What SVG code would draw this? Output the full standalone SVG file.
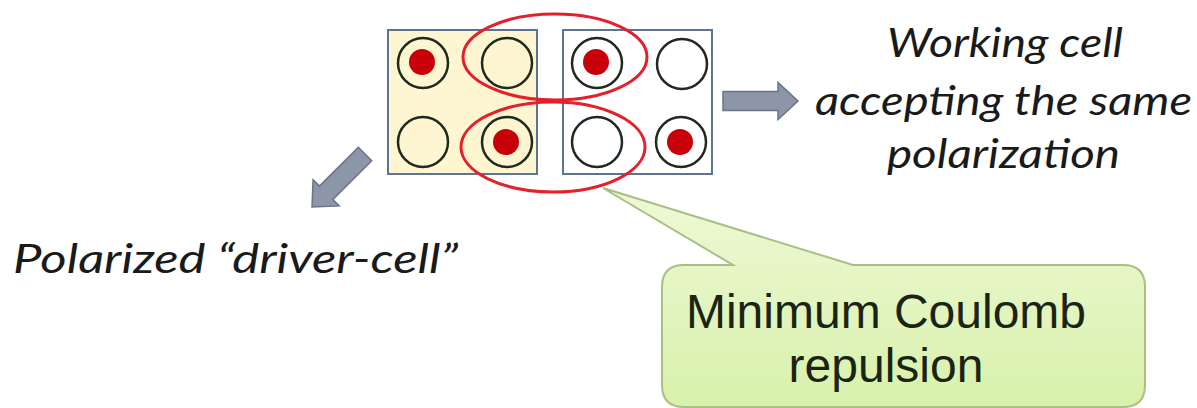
<svg xmlns="http://www.w3.org/2000/svg" width="1197" height="408" viewBox="0 0 1197 408">
  <style>
    .cell { stroke: #5d7392; stroke-width: 2; }
    .dot-ring { fill: none; stroke: #1f2a1f; stroke-width: 2.5; }
    .charge { fill: #c8000a; }
    .pair { fill: none; stroke: #e3202c; stroke-width: 3; }
    .arrow { fill: #8d96a8; stroke: #6b7487; stroke-width: 1.5; stroke-linejoin: miter; }
    .label { font-family: Lato, "Open Sans", sans-serif; font-style: italic; font-size: 40px; fill: #1a1a1a; }
    .callout-text { font-family: "Liberation Sans", Arial, sans-serif; font-size: 48px; fill: #1b2414; text-anchor: middle; }
  </style>
  <defs>
    <linearGradient id="calloutFill" x1="0" y1="0" x2="0" y2="1">
      <stop offset="0" stop-color="#eef9d6"/>
      <stop offset="1" stop-color="#d8f1ab"/>
    </linearGradient>
    <!-- block arrow, tip at the origin, pointing along +x -->
    <path id="blockArrow" d="M -75,-9.5 L -20,-9.5 L -20,-18.5 L 0,0 L -20,18.5 L -20,9.5 L -75,9.5 Z"/>
  </defs>

  <rect width="1197" height="408" fill="#ffffff"/>

  <!-- driver cell (left, polarized) -->
  <g id="driver-cell">
    <rect class="cell" x="388" y="30" width="149" height="144" fill="#fdf6d0"/>
    <circle class="dot-ring" cx="423" cy="63" r="25"/>
    <circle class="charge" cx="422" cy="62" r="13"/>
    <circle class="dot-ring" cx="507" cy="63" r="25"/>
    <circle class="dot-ring" cx="423" cy="142" r="25"/>
    <circle class="dot-ring" cx="507" cy="142" r="25"/>
    <circle class="charge" cx="506" cy="142" r="13"/>
  </g>

  <!-- working cell (right) -->
  <g id="working-cell">
    <rect class="cell" x="563" y="30" width="149" height="144" fill="#ffffff"/>
    <circle class="dot-ring" cx="597" cy="63" r="25"/>
    <circle class="charge" cx="596" cy="62" r="13"/>
    <circle class="dot-ring" cx="682" cy="64" r="25"/>
    <circle class="dot-ring" cx="597" cy="142" r="25"/>
    <circle class="dot-ring" cx="681" cy="142" r="25"/>
    <circle class="charge" cx="680" cy="142" r="13"/>
  </g>

  <!-- neighbouring charge pairs -->
  <g id="charge-pairs">
    <ellipse class="pair" cx="555" cy="57" rx="92" ry="43"/>
    <ellipse class="pair" cx="553" cy="147" rx="92" ry="45"/>
  </g>

  <!-- callout -->
  <g id="callout">
    <path d="M 684,265 L 733,265 L 603,188 L 853,265 L 1123,265 Q 1145,265 1145,287 L 1145,385 Q 1145,407 1123,407 L 684,407 Q 662,407 662,385 L 662,287 Q 662,265 684,265 Z"
          fill="url(#calloutFill)" stroke="#a9bf84" stroke-width="2"/>
    <text class="callout-text" x="886" y="328">Minimum Coulomb</text>
    <text class="callout-text" x="886" y="382">repulsion</text>
  </g>

  <g id="connectors">
    <use href="#blockArrow" class="arrow" transform="translate(798,101)"/>
    <use href="#blockArrow" class="arrow" transform="translate(312,207) rotate(135)"/>
  </g>

  <g id="working-label">
    <text class="label" x="887" y="57" textLength="236" lengthAdjust="spacingAndGlyphs">Working cell</text>
    <text class="label" x="815" y="115" textLength="377" lengthAdjust="spacingAndGlyphs">accepting the same</text>
    <text class="label" x="887" y="168" textLength="233" lengthAdjust="spacingAndGlyphs">polarization</text>
  </g>

  <g id="driver-label">
    <text class="label" x="13" y="273" textLength="445" lengthAdjust="spacingAndGlyphs">Polarized “driver-cell”</text>
  </g>
</svg>
